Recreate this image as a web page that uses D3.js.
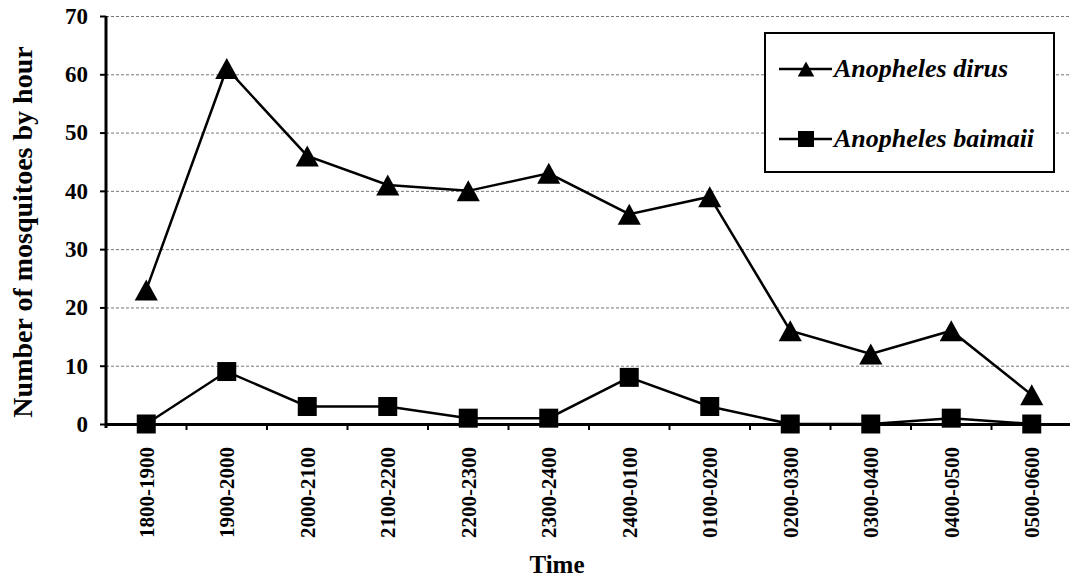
<!DOCTYPE html>
<html>
<head>
<meta charset="utf-8">
<script src="https://cdn.jsdelivr.net/npm/d3@7"></script>
<style>
  body { margin: 0; background: #fff; }
  svg { display: block; }
  svg text { font-family: "Liberation Serif", "Times New Roman", serif; font-weight: bold; }
</style>
</head>
<body>
<div id="chart"></div>
<script>
// hourly catches
const timeSlots = ["1800-1900", "1900-2000", "2000-2100", "2100-2200", "2200-2300", "2300-2400",
    "2400-0100", "0100-0200", "0200-0300", "0300-0400", "0400-0500", "0500-0600"];
const dirus = [23, 61, 46, 41, 40, 43, 36, 39, 16, 12, 16, 5];
const baimaii = [0, 9, 3, 3, 1, 1, 8, 3, 0, 0, 1, 0];
const yTicks = [0, 10, 20, 30, 40, 50, 60, 70];
const seriesNames = ["Anopheles dirus", "Anopheles baimaii"];

const width = 1070, height = 581;
const margin = {top: 16, right: -2, bottom: 157, left: 106};

const svg = d3.select("#chart").append("svg")
    .attr("width", width)
    .attr("height", height);

const x = d3.scaleBand()
    .domain(timeSlots)
    .range([margin.left, width - margin.right]);

const y = d3.scaleLinear()
    .domain([0, 70])
    .range([height - margin.bottom, margin.top]);

// dashed gridlines
svg.append("g")
    .selectAll("line")
    .data(yTicks.filter(d => d > 0))
    .join("line")
    .attr("x1", margin.left)
    .attr("x2", width)
    .attr("y1", d => y(d) + 0.5)
    .attr("y2", d => y(d) + 0.5)
    .attr("stroke", "#777")
    .attr("stroke-width", 1)
    .attr("stroke-dasharray", "3,2");

// y axis
const yAxis = svg.append("g")
    .attr("transform", `translate(${margin.left}, 0)`)
    .call(d3.axisLeft(y).tickValues(yTicks).tickSize(6).tickPadding(12));
yAxis.attr("font-family", null).attr("font-size", null);
yAxis.select(".domain").attr("stroke-width", 3).attr("d", `M0,${y(70)}V${y(0) + 4}`);
yAxis.selectAll(".tick line").attr("stroke-width", 2);
yAxis.selectAll("text").attr("font-size", 23).attr("fill", "#000");

// x axis
const xAxis = svg.append("g")
    .attr("transform", `translate(0, ${y(0)})`)
    .call(d3.axisBottom(x).tickSize(0).tickPadding(0));
xAxis.attr("font-family", null).attr("font-size", null);
xAxis.select(".domain").attr("stroke-width", 3);
xAxis.selectAll("text")
    .attr("font-size", 21)
    .attr("fill", "#000")
    .attr("text-anchor", "end")
    .attr("transform", "rotate(-90)")
    .attr("x", -23)
    .attr("y", 0)
    .attr("dy", "0.35em");

// ticks between the categories
xAxis.append("g")
    .selectAll("line")
    .data(timeSlots.slice(1).concat(["end"]))
    .join("line")
    .attr("x1", d => d === "end" ? x.range()[1] - 1 : x(d))
    .attr("x2", d => d === "end" ? x.range()[1] - 1 : x(d))
    .attr("y1", 0)
    .attr("y2", 6)
    .attr("stroke", "#000")
    .attr("stroke-width", 2);

// axis titles
svg.append("text")
    .attr("transform", `translate(32, ${(y(0) + y(70)) / 2 + 12}) rotate(-90)`)
    .attr("text-anchor", "middle")
    .attr("font-size", 28)
    .text("Number of mosquitoes by hour");

svg.append("text")
    .attr("x", 557)
    .attr("y", 573)
    .attr("text-anchor", "middle")
    .attr("font-size", 25)
    .text("Time");

// markers
const triangle = s => `M0,${-s / 2}L${s * 0.55},${s / 2}L${-s * 0.55},${s / 2}Z`;
const square = s => `M${-s / 2},${-s / 2}h${s}v${s}h${-s}Z`;

const line = d3.line()
    .x((d, i) => x(timeSlots[i]) + x.bandwidth() / 2)
    .y(d => y(d));

function drawSeries(values, shape, size) {
    let g = svg.append("g");
    g.append("path")
        .datum(values)
        .attr("fill", "none")
        .attr("stroke", "#000")
        .attr("stroke-width", 2.5)
        .attr("d", line);
    g.selectAll(".mark")
        .data(values)
        .join("path")
        .attr("class", "mark")
        .attr("transform", (d, i) => `translate(${x(timeSlots[i]) + x.bandwidth() / 2}, ${y(d)})`)
        .attr("d", shape(size))
        .attr("fill", "#000");
}

drawSeries(baimaii, square, 19);
drawSeries(dirus, triangle, 21);

// legend
const legend = svg.append("g");
legend.append("rect")
    .attr("x", 765)
    .attr("y", 33)
    .attr("width", 289)
    .attr("height", 139)
    .attr("fill", "#fff")
    .attr("stroke", "#000")
    .attr("stroke-width", 2);

const legendShapes = [triangle(15), square(16)];
seriesNames.forEach(function (name, i) {
    let ly = 69 + i * 70;
    legend.append("line")
        .attr("x1", 779).attr("x2", 832)
        .attr("y1", ly).attr("y2", ly)
        .attr("stroke", "#000").attr("stroke-width", 2.5);
    legend.append("path")
        .attr("transform", `translate(806, ${ly})`)
        .attr("d", legendShapes[i])
        .attr("fill", "#000");
    legend.append("text")
        .attr("x", 834)
        .attr("y", ly + 8)
        .attr("font-size", 26)
        .attr("font-style", "italic")
        .text(name);
});
</script>
</body>
</html>
